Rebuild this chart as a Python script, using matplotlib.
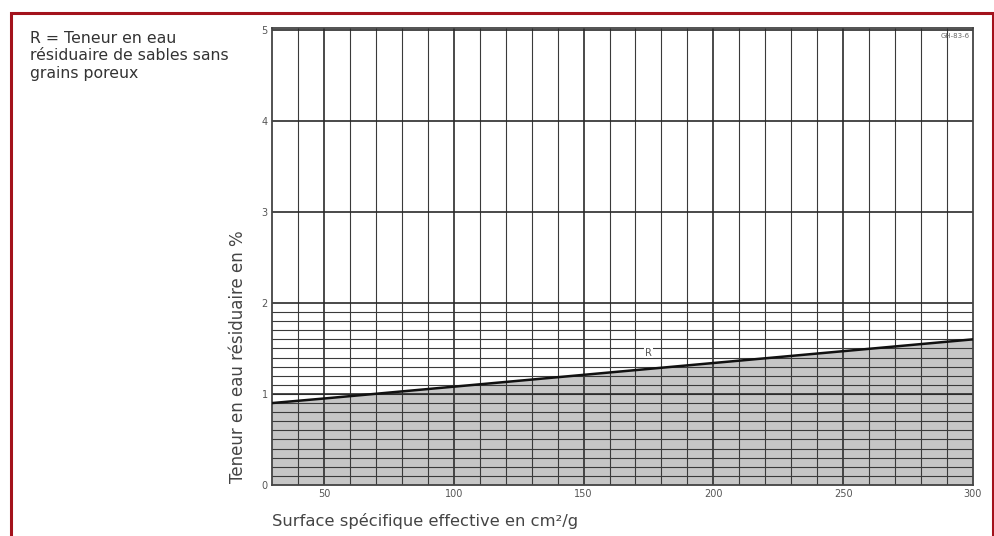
import matplotlib.pyplot as plt
import numpy as np

# Courbe R : teneur en eau résiduaire (%) selon la surface spécifique (cm²/g)
surface = [30, 50, 100, 150, 200, 250, 300]
teneur = [0.90, 0.95, 1.08, 1.21, 1.34, 1.47, 1.60]

x_ticks = [50, 100, 150, 200, 250, 300]
y_ticks = [0, 1, 2, 3, 4, 5]

fig = plt.figure(figsize=(9.95, 5.36), dpi=100)
fig.patch.set_facecolor("white")

# ── Cadre rouge ───────────────────────────────────────────────────────────
frame = plt.Rectangle((11 / 995, -0.05), 982 / 995, 1.05 - 13 / 536,
                      transform=fig.transFigure, facecolor="none",
                      edgecolor="#a3121c", linewidth=2.2)
fig.patches.append(frame)

ax = fig.add_axes([272 / 995, 1 - 485 / 536, 701 / 995, 457 / 536])
ax.set_xlim(30, 300)
ax.set_ylim(0, 5.02)

# Zone grisée sous la courbe
ax.fill_between(surface, teneur, 0, color="#c6c6c6", zorder=1, lw=0)

# ── Quadrillage ───────────────────────────────────────────────────────────
for v in np.arange(40, 300, 10):
    lw = 1.3 if v % 50 == 0 else 0.8
    ax.axvline(v, color="#3a3a3a", linewidth=lw, zorder=2)
for v in np.arange(0.1, 2.0, 0.1):
    ax.axhline(v, color="#3a3a3a", linewidth=0.8, zorder=2)
for v in y_ticks[1:]:
    ax.axhline(v, color="#2a2a2a", linewidth=1.2, zorder=2)

ax.plot(surface, teneur, color="#111111", linewidth=1.8, zorder=3)
ax.text(175, 1.40, "R", fontsize=7, color="#555555", ha="center",
        va="bottom", zorder=4,
        bbox=dict(facecolor="white", edgecolor="none", pad=0.5))

ax.set_xticks(x_ticks)
ax.set_yticks(y_ticks)
ax.tick_params(length=0, labelsize=7, colors="#555555", pad=3)
for spine in ax.spines.values():
    spine.set_edgecolor("#444444")
    spine.set_linewidth(1.3)

ax.text(0.995, 0.99, "GH-83-6", transform=ax.transAxes, fontsize=5,
        color="#666666", ha="right", va="top")

# ── Textes ────────────────────────────────────────────────────────────────
fig.text(30 / 995, 1 - 31 / 536,
         "R = Teneur en eau\nrésiduaire de sables sans\ngrains poreux",
         fontsize=11.3, color="#333333", ha="left", va="top", linespacing=1.2)
fig.text(238 / 995, 1 - 357 / 536, "Teneur en eau résiduaire en %",
         rotation=90, fontsize=12, color="#444444", ha="center", va="center")
fig.text(272 / 995, 1 - 521 / 536, "Surface spécifique effective en cm²/g",
         fontsize=11.8, color="#444444", ha="left", va="center")

fig.savefig("out.png", dpi=100)
